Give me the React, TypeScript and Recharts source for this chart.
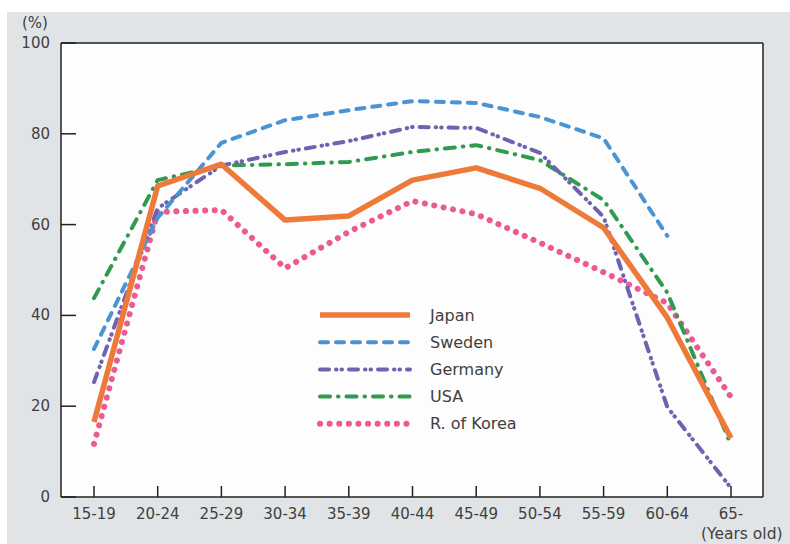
import { LineChart, Line, XAxis, YAxis, CartesianGrid } from 'recharts';

const categories = ['15-19', '20-24', '25-29', '30-34', '35-39', '40-44', '45-49', '50-54', '55-59', '60-64', '65-'];
const japan   = [16.5, 68.5, 73.3, 61.0, 61.9, 69.8, 72.5, 68.0, 59.3, 39.5, 13.0];
const sweden  = [32.6, 61.5, 78.0, 83.0, 85.2, 87.2, 86.8, 83.7, 79.0, 57.5, null];
const germany = [25.3, 63.6, 73.0, 76.0, 78.4, 81.5, 81.3, 75.8, 61.7, 19.8, 2.0];
const usa     = [43.8, 69.8, 73.0, 73.3, 73.8, 76.0, 77.5, 74.2, 65.4, 45.0, 11.5];
const korea   = [11.7, 62.8, 63.2, 50.4, 58.4, 65.2, 62.3, 56.0, 49.5, 42.7, 22.0];
const yTicks  = [0, 20, 40, 60, 80, 100];

const FONT = '"DejaVu Sans", Verdana, sans-serif';
const TEXT = '#404040';

const series = [
  { key: 'korea',   name: 'R. of Korea', color: '#ec5a94', width: 6,   dash: '0.1 9.5' },
  { key: 'usa',     name: 'USA',         color: '#2f9a50', width: 4,   dash: '10 8 0.5 8' },
  { key: 'germany', name: 'Germany',     color: '#6e63b0', width: 4,   dash: '9 7 0.5 5 0.5 7' },
  { key: 'sweden',  name: 'Sweden',      color: '#4a94d4', width: 4,   dash: '8 8' },
  { key: 'japan',   name: 'Japan',       color: '#ee7a3a', width: 5.5, dash: undefined },
];
const legendOrder = ['japan', 'sweden', 'germany', 'usa', 'korea'];

const data = categories.map((c, i) => ({
  cat: c,
  japan: japan[i],
  sweden: sweden[i],
  germany: germany[i],
  usa: usa[i],
  korea: korea[i],
}));

function YTick({ x, y, payload }: any) {
  return (
    <g>
      <line x1={x} x2={x + 15} y1={y} y2={y} stroke="#222" strokeWidth={1.5} />
      <text x={x - 11} y={y + 5} textAnchor="end" fontSize={15} fill={TEXT} fontFamily={FONT}>
        {payload.value}
      </text>
    </g>
  );
}

function XTick({ x, y, payload }: any) {
  return (
    <g>
      <line x1={x} x2={x} y1={y} y2={y - 11} stroke="#222" strokeWidth={1.5} />
      <text x={x} y={y + 22} textAnchor="middle" fontSize={15} fill={TEXT} fontFamily={FONT}>
        {payload.value}
      </text>
    </g>
  );
}

function LegendBox() {
  return (
    <svg width={260} height={150} style={{ position: 'absolute', left: 310, top: 298 }}>
      {legendOrder.map((k, i) => {
        const s = series.find(d => d.key === k)!;
        const y = 17 + i * 27.2;
        return (
          <g key={k}>
            <line
              x1={10} x2={100} y1={y} y2={y}
              stroke={s.color}
              strokeWidth={s.width}
              strokeDasharray={s.dash}
              strokeLinecap={s.dash ? 'round' : 'butt'}
            />
            <text x={120} y={y + 5.5} fontSize={16} fill={TEXT} fontFamily={FONT}>{s.name}</text>
          </g>
        );
      })}
    </svg>
  );
}

export default function App() {
  return (
    <div style={{ position: 'absolute', left: 0, top: 0, width: 790, height: 544, background: '#fff', overflow: 'hidden' }}>
      <div style={{ position: 'absolute', left: 7, top: 12, width: 783, height: 532, background: '#e0e4e6' }} />
      <div style={{ position: 'absolute', left: 0, top: 0 }}>
        <LineChart width={790} height={544} data={data} margin={{ top: 42, right: 26, bottom: 17, left: 21 }}>
          <CartesianGrid horizontal={false} vertical={false} fill="#fdfdfd" />
          <XAxis
            dataKey="cat"
            interval={0}
            padding={{ left: 33, right: 32 }}
            axisLine={{ stroke: '#222', strokeWidth: 1.5 }}
            tickLine={false}
            tickSize={0}
            tickMargin={0}
            height={30}
            tick={<XTick />}
          />
          <XAxis xAxisId="top" orientation="top" dataKey="cat" height={1} tick={false} tickLine={false} axisLine={{ stroke: '#222', strokeWidth: 1.5 }} />
          <YAxis
            domain={[0, 100]}
            ticks={yTicks}
            width={40}
            axisLine={{ stroke: '#222', strokeWidth: 1.5 }}
            tickLine={false}
            tickSize={0}
            tickMargin={0}
            tick={<YTick />}
          />
          <YAxis yAxisId="right" orientation="right" domain={[0, 100]} width={1} tick={false} tickLine={false} axisLine={{ stroke: '#222', strokeWidth: 1.5 }} />
          {series.map(s => (
            <Line
              key={s.key}
              dataKey={s.key}
              type="linear"
              stroke={s.color}
              strokeWidth={s.width}
              strokeDasharray={s.dash}
              strokeLinecap={s.dash ? 'round' : 'butt'}
              strokeLinejoin="round"
              dot={false}
              activeDot={false}
              isAnimationActive={false}
            />
          ))}
        </LineChart>
      </div>
      <LegendBox />
      <div style={{ position: 'absolute', left: 22, top: 14, fontSize: 15, color: TEXT, fontFamily: FONT }}>(%)</div>
      <div style={{ position: 'absolute', left: 701, top: 525, fontSize: 15.5, color: TEXT, fontFamily: FONT, whiteSpace: 'nowrap' }}>(Years old)</div>
    </div>
  );
}
